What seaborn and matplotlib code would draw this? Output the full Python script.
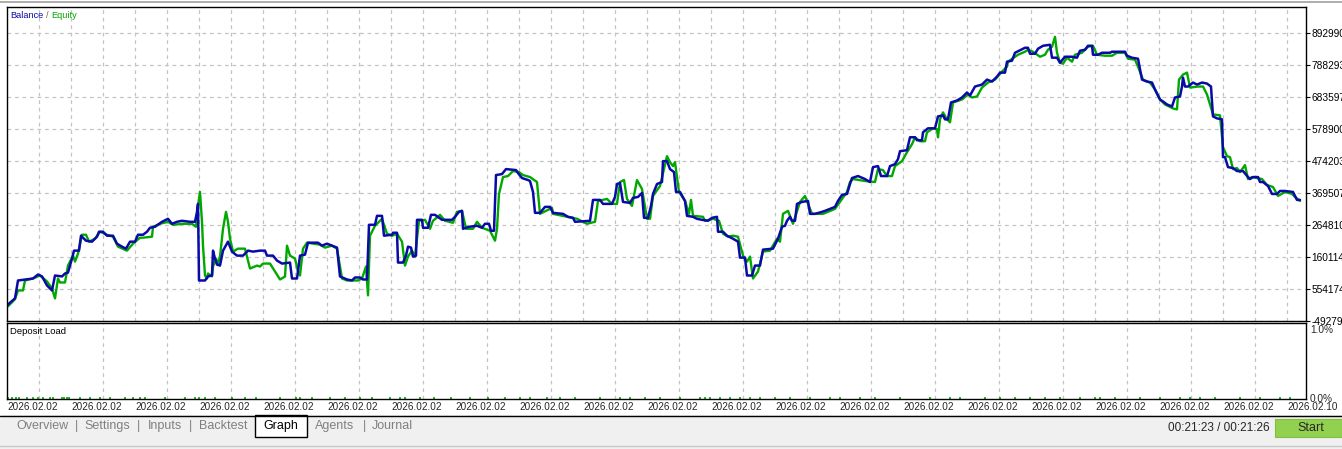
import numpy as np
import pandas as pd
import matplotlib
matplotlib.use("Agg")
import matplotlib.pyplot as plt
from matplotlib.patches import Rectangle
import seaborn as sns

# ---- data (trade step, value) ----
balance_x = [7, 15, 18, 33, 38, 42, 47, 52, 55, 62, 65, 68, 72, 74, 79, 81, 86, 92, 97, 99,
             103, 107, 113, 117, 122, 126, 130, 135, 138, 143, 147, 150, 155, 162, 168, 172, 177, 182, 190, 195,
             197, 198, 199, 205, 208, 212, 213, 215, 217, 220, 223, 228, 232, 237, 243, 248, 253, 260, 265, 267,
             273, 277, 282, 290, 292, 297, 300, 305, 308, 318, 322, 327, 332, 337, 340, 347, 352, 355, 360, 363,
             367, 369, 375, 377, 382, 384, 392, 393, 397, 398, 403, 406, 408, 411, 413, 416, 417, 422, 423, 428,
             431, 435, 442, 452, 455, 459, 462, 463, 469, 477, 482, 485, 489, 491, 494, 496, 502, 506, 516, 518,
             522, 528, 530, 533, 535, 540, 545, 550, 553, 563, 568, 573, 575, 590, 593, 600, 603, 612, 615, 617,
             620, 623, 630, 633, 638, 642, 644, 648, 651, 653, 657, 662, 663, 667, 670, 674, 676, 680, 685, 687,
             693, 697, 702, 708, 712, 717, 718, 723, 727, 733, 738, 740, 745, 747, 752, 755, 760, 763, 773, 778,
             782, 785, 787, 790, 792, 795, 797, 802, 808, 810, 815, 822, 825, 830, 835, 838, 842, 847, 850, 852,
             858, 865, 870, 873, 878, 881, 887, 890, 895, 898, 900, 907, 910, 915, 917, 922, 923, 928, 935, 938,
             943, 945, 948, 951, 957, 962, 967, 970, 975, 982, 987, 992, 997, 1000, 1005, 1007, 1012, 1015, 1019, 1025,
             1028, 1030, 1035, 1038, 1043, 1050, 1052, 1057, 1060, 1065, 1072, 1077, 1080, 1085, 1088, 1092, 1093, 1098, 1102, 1110,
             1112, 1125, 1127, 1132, 1138, 1142, 1147, 1152, 1155, 1160, 1163, 1167, 1172, 1175, 1180, 1182, 1183, 1185, 1188, 1193,
             1197, 1202, 1207, 1211, 1213, 1217, 1222, 1223, 1225, 1228, 1233, 1237, 1243, 1248, 1250, 1253, 1258, 1260, 1263, 1268,
             1272, 1277, 1280, 1285, 1293, 1297, 1300]
balance_k = [20, 247, 832, 897, 1027, 965, 670, 507, 995, 965, 1060, 1092, 1548, 1808, 1808, 2296, 2133, 2101, 2264, 2426,
             2426, 2296, 2296, 2036, 1938, 1873, 2101, 2101, 2328, 2328, 2426, 2556, 2588, 2751, 2849, 2686, 2751, 2784, 2751, 2751,
             3076, 3336, 832, 832, 965, 997, 1808, 1548, 1353, 1320, 1808, 2101, 1776, 1645, 1645, 1808, 1776, 1808, 1808, 1645,
             1645, 1483, 1385, 1418, 897, 897, 1645, 1678, 2068, 2068, 1971, 2036, 1971, 1906, 965, 865, 832, 930, 930, 865,
             865, 2653, 2653, 2946, 2946, 2296, 2328, 2393, 2393, 1418, 1418, 1645, 1938, 1906, 1613, 1645, 2816, 2816, 2556, 2556,
             2979, 2979, 2816, 2816, 2914, 3076, 3109, 2523, 2588, 2621, 2556, 2686, 2686, 2458, 2458, 4279, 4312, 4475, 4442, 4345,
             4182, 4117, 4085, 3727, 3044, 3044, 3239, 3239, 3044, 3011, 2914, 2881, 2751, 2784, 3467, 3467, 3337, 3337, 3564, 3987,
             4019, 3401, 3369, 3532, 3564, 3694, 2881, 2881, 3271, 3662, 3987, 4052, 4735, 4735, 4475, 4377, 3727, 3727, 3434, 2946,
             2914, 2849, 2816, 2784, 2881, 2914, 2426, 2426, 2296, 2198, 2101, 1580, 1580, 995, 995, 1320, 1320, 1841, 1873, 2198,
             2588, 2621, 2784, 2914, 2784, 2784, 3337, 3401, 3434, 3011, 3011, 3076, 3109, 3174, 3239, 3434, 3629, 3662, 3987, 4182,
             4247, 4149, 4052, 4539, 4572, 4247, 4247, 4572, 4637, 4800, 5060, 5093, 5515, 5515, 5418, 5418, 5678, 5808, 5808, 6198,
             6231, 6101, 6101, 6653, 6718, 6816, 6979, 6881, 7174, 7239, 7401, 7336, 7499, 7629, 7629, 7987, 8019, 8279, 8345, 8442,
             8442, 8247, 8247, 8410, 8507, 8540, 8117, 8117, 7954, 8149, 8149, 8117, 8345, 8377, 8507, 8507, 8214, 8214, 8279, 8279,
             8312, 8312, 8182, 8117, 8084, 7401, 7336, 7304, 7076, 6751, 6686, 6588, 6523, 6816, 6849, 7174, 7466, 7174, 7174, 7304,
             7239, 7304, 7271, 7174, 6198, 6133, 6101, 4865, 4865, 4540, 4507, 4410, 4410, 4214, 4149, 4214, 4214, 4052, 4052, 3922,
             3662, 3662, 3759, 3759, 3727, 3467, 3467]

equity_x = [8, 15, 18, 23, 25, 33, 40, 47, 52, 55, 58, 60, 65, 68, 73, 75, 78, 82, 86, 89,
            95, 100, 107, 113, 118, 127, 133, 140, 143, 152, 153, 160, 168, 173, 183, 192, 196, 198, 200, 202,
            203, 205, 207, 208, 212, 213, 216, 218, 220, 223, 226, 228, 230, 233, 238, 245, 250, 257, 260, 263,
            270, 275, 280, 285, 287, 290, 295, 298, 300, 303, 307, 320, 325, 332, 337, 342, 347, 358, 362, 366,
            368, 370, 375, 382, 387, 392, 397, 402, 405, 408, 412, 415, 419, 425, 430, 433, 440, 445, 453, 457,
            462, 466, 473, 477, 482, 490, 495, 497, 499, 503, 508, 513, 519, 523, 530, 537, 540, 552, 553, 577,
            587, 595, 598, 607, 612, 617, 620, 624, 627, 632, 637, 642, 647, 650, 653, 660, 667, 670, 673, 675,
            679, 685, 689, 691, 693, 703, 705, 713, 719, 723, 728, 733, 738, 743, 747, 750, 753, 758, 763, 770,
            777, 780, 783, 788, 793, 800, 805, 808, 812, 823, 835, 847, 850, 853, 865, 875, 878, 883, 887, 892,
            895, 902, 907, 912, 915, 920, 925, 927, 933, 937, 938, 940, 943, 947, 950, 953, 962, 968, 972, 977,
            982, 988, 995, 1002, 1007, 1008, 1018, 1025, 1028, 1033, 1040, 1045, 1048, 1052, 1055, 1057, 1060, 1063, 1067, 1072,
            1075, 1082, 1088, 1093, 1097, 1105, 1112, 1117, 1125, 1128, 1135, 1138, 1143, 1150, 1155, 1160, 1165, 1173, 1177, 1179,
            1183, 1187, 1190, 1198, 1203, 1207, 1210, 1213, 1220, 1223, 1227, 1230, 1233, 1237, 1240, 1245, 1248, 1252, 1262, 1267,
            1273, 1278, 1285, 1292, 1295, 1300]
equity_k = [-13, 223, 507, 507, 832, 897, 995, 800, 572, 247, 897, 767, 767, 1320, 1645, 1450, 1710, 2328, 2328, 2101,
            2198, 2426, 2328, 2264, 1938, 1808, 2036, 2231, 2231, 2264, 2588, 2686, 2751, 2653, 2686, 2686, 2588, 3271, 3727, 2751,
            1971, 995, 897, 1060, 965, 1288, 1548, 1385, 1613, 2523, 3076, 2751, 2198, 1776, 1873, 1873, 1223, 1320, 1288, 1385,
            1385, 1125, 865, 962, 1971, 1645, 1548, 1125, 995, 1873, 2068, 2003, 1906, 1971, 1873, 897, 832, 832, 897, 1288,
            345, 2296, 2621, 2849, 2361, 2296, 2361, 2101, 1320, 1613, 1808, 1613, 2784, 2816, 2523, 2784, 2979, 2784, 2719, 3076,
            3109, 2523, 2523, 2751, 2556, 2458, 2133, 2523, 3662, 4214, 4247, 4410, 4377, 4279, 4214, 4052, 3011, 3206, 3011, 2849,
            2686, 2751, 3434, 3499, 3337, 3337, 4052, 4117, 3499, 3271, 4117, 3824, 2849, 2849, 3596, 3922, 4898, 4702, 4572, 4702,
            3727, 3434, 3011, 3467, 2946, 2914, 2784, 2849, 2784, 2361, 2264, 2296, 2264, 1645, 1450, 1613, 897, 1125, 1776, 1808,
            2198, 2101, 3011, 3109, 2686, 3401, 3596, 3337, 3011, 3011, 3174, 3727, 4052, 4149, 4085, 4052, 4475, 4442, 4247, 4247,
            4572, 4735, 5028, 5288, 5515, 5385, 5385, 5678, 5808, 5776, 5515, 6101, 6328, 6101, 6003, 6653, 6751, 6914, 6816, 6849,
            7141, 7304, 7401, 7662, 7824, 7987, 8214, 8312, 8377, 8312, 8149, 8214, 8377, 8475, 8800, 8279, 7954, 7921, 8117, 7987,
            8214, 8279, 8475, 8507, 8214, 8182, 8182, 8279, 8279, 8084, 8052, 7824, 7401, 7304, 7076, 6751, 6588, 6458, 6426, 7401,
            7564, 7629, 7141, 7174, 7174, 6914, 6588, 6263, 6231, 5190, 4897, 4865, 4475, 4507, 4377, 4605, 4149, 4214, 4149, 3954,
            3889, 3597, 3727, 3662, 3564, 3434]

load_x = [8, 12, 16, 19, 27, 33, 38, 43, 50, 53, 62, 64, 67, 69, 80, 90, 100, 110, 125, 133,
          140, 145, 165, 185, 195, 199, 205, 215, 232, 245, 256, 280, 296, 300, 312, 330, 345, 360, 372, 390,
          400, 405, 420, 434, 451, 470, 488, 505, 520, 530, 547, 560, 575, 600, 620, 630, 645, 660, 680, 700,
          705, 710, 720, 730, 740, 750, 760, 775, 790, 810, 830, 840, 860, 875, 900, 930, 950, 960, 985, 1000,
          1015, 1030, 1045, 1060, 1080, 1095, 1100, 1115, 1140, 1160, 1180, 1190, 1200, 1215, 1240, 1260, 1280, 1290]
load_pct = [0.03] * len(load_x)

y_ticks = [8929904, 7882938, 6835972, 5789005, 4742039, 3695073, 2648106, 1601140, 554174, -492793]
date_labels = ["2026.02.02"] * 20 + ["2026.02.10"]

balance = pd.DataFrame({"step": balance_x, "value": np.array(balance_k) * 1000})
equity = pd.DataFrame({"step": equity_x, "value": np.array(equity_k) * 1000})

sns.set_style("white")
plt.rcParams["font.family"] = ["Liberation Sans", "DejaVu Sans"]

W, H = 1342, 449
fig = plt.figure(figsize=(W / 100, H / 100), dpi=100)
fig.patch.set_facecolor("white")


def px_axes(x0, y0, x1, y1):
    return fig.add_axes([x0 / W, 1 - y1 / H, (x1 - x0) / W, (y1 - y0) / H])


def fig_text(x, y, s, **kw):
    return fig.text(x / W, 1 - y / H, s, **kw)


BLUE = "#0a0aa8"
GREEN = "#00a800"
GRID = "#c4c4c4"

# ---- main balance / equity panel ----
ax = px_axes(7, 7, 1306, 321)
sns.lineplot(data=equity, x="step", y="value", sort=False, estimator=None,
             color=GREEN, lw=1.7, ax=ax)
sns.lineplot(data=balance, x="step", y="value", sort=False, estimator=None,
             color=BLUE, lw=1.8, ax=ax)
ax.set_xlim(7, 1306)
ax.set_ylim(-475000, 9775000)
ax.set_xlabel("")
ax.set_ylabel("")
ax.set_xticks(np.arange(39, 1306, 32))
ax.set_xticklabels([])
ax.tick_params(axis="x", length=0)
ax.set_yticks(y_ticks)
ax.yaxis.tick_right()
ax.set_yticklabels([str(v) for v in y_ticks], fontsize=7.3)
ax.tick_params(axis="y", length=3, width=0.8, pad=1, colors="black")
ax.grid(True, color=GRID, ls=(0, (3, 3)), lw=0.9)
for s in ax.spines.values():
    s.set_color("black")
    s.set_linewidth(1.0)

fig_text(10, 15, "Balance", color=BLUE, fontsize=6.6, va="center")
fig_text(46, 15, "/", color="#806040", fontsize=6.6, va="center")
fig_text(51, 15, "Equity", color=GREEN, fontsize=6.6, va="center")

# ---- deposit load panel ----
ax2 = px_axes(7, 323, 1306, 399)
ax2.vlines(load_x, 0, load_pct, color=GREEN, lw=1.2)
ax2.set_xlim(7, 1306)
ax2.set_ylim(0, 1.0)
ax2.set_xticks(np.arange(39, 1306, 32), minor=True)
ax2.grid(True, which="minor", axis="x", color=GRID, ls=(0, (3, 3)), lw=0.9)
ax2.set_xticks(np.arange(7, 1306, 64))
ax2.set_xticklabels([])
ax2.tick_params(axis="x", which="major", length=3, width=0.8, direction="out")
ax2.tick_params(axis="x", which="minor", length=0)
ax2.set_yticks([])
for s in ax2.spines.values():
    s.set_color("black")
    s.set_linewidth(1.0)
fig_text(10, 331, "Deposit Load", color="black", fontsize=6.8, va="center")
fig_text(1310, 330, "1.0%", fontsize=7.3, va="center")
fig_text(1310, 399, "0.0%", fontsize=7.3, va="center")

# date labels under the panels, left aligned at each tick
for i, lab in enumerate(date_labels):
    xp = 7 + 64 * i
    if xp > 1300:
        xp = 1288
    fig_text(xp, 407, lab, fontsize=7.2, ha="left", va="center")

# ---- window chrome: top line, tab bar, status bar ----
fig.add_artist(plt.Line2D([0, 1], [1 - 1.5 / H, 1 - 1.5 / H], color="#a0a0a0", lw=1.2))
fig.add_artist(Rectangle((0, 0), 1, (H - 415) / H, transform=fig.transFigure,
                         facecolor="#f0f0f0", edgecolor="none", zorder=-1))
fig.add_artist(plt.Line2D([0, 1], [1 - 415.5 / H, 1 - 415.5 / H], color="black", lw=1.0))
fig.add_artist(Rectangle((255 / W, 1 - 437 / H), 52 / W, 22 / H, transform=fig.transFigure,
                         facecolor="white", edgecolor="black", lw=1.0))
tabs = ["Overview", "Settings", "Inputs", "Backtest", "Graph", "Agents", "Journal"]
tab_x = [42, 107, 165, 223, 281, 335, 392]
for name, tx in zip(tabs, tab_x):
    fig_text(tx, 426, name, fontsize=9, ha="center", va="center",
             color="black" if name == "Graph" else "#808080")
for sx in [76, 138, 191, 364]:
    fig_text(sx, 426, "|", fontsize=9, ha="center", va="center", color="#808080")
fig.add_artist(plt.Line2D([0, 1], [1 - 446 / H, 1 - 446 / H], color="#c8c8c8", lw=1.0))
fig_text(1219, 428, "00:21:23 / 00:21:26", fontsize=8.5, ha="center", va="center")
fig.add_artist(Rectangle((1275 / W, 1 - 437 / H), 67 / W, 18 / H, transform=fig.transFigure,
                         facecolor="#92d050", edgecolor="#80c040", lw=0.8))
fig_text(1311, 428, "Start", fontsize=9, ha="center", va="center")

fig.savefig("out.png", dpi=100, facecolor="white")
